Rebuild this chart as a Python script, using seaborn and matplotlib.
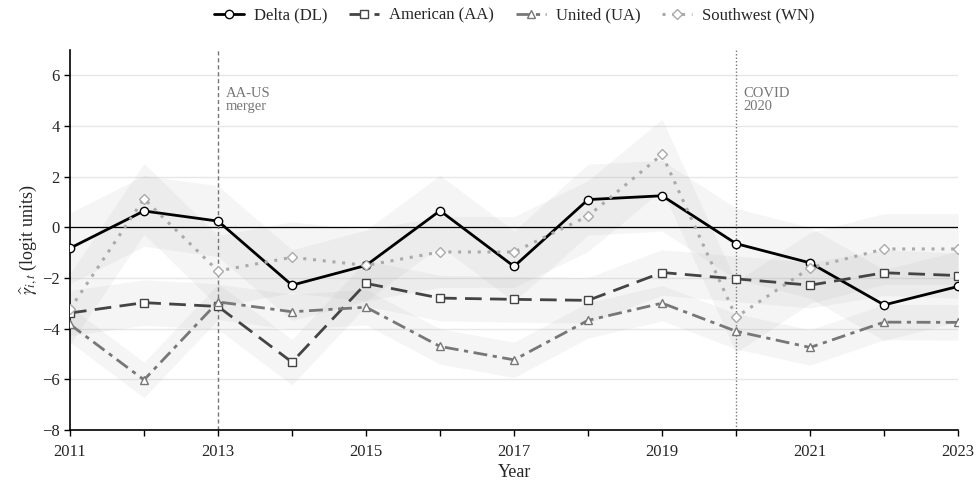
import numpy as np
import pandas as pd
import matplotlib
matplotlib.use("Agg")
import matplotlib.pyplot as plt
import seaborn as sns
from matplotlib.ticker import MultipleLocator

years = list(range(2011, 2024))
delta = [-0.82, 0.65, 0.25, -2.28, -1.5, 0.66, -1.54, 1.1, 1.25, -0.64, -1.4, -3.06, -2.33]
american = [-3.38, -2.97, -3.12, -5.32, -2.21, -2.79, -2.84, -2.88, -1.78, -2.03, -2.28, -1.79, -1.9]
united = [-3.83, -6.02, -2.94, -3.33, -3.15, -4.7, -5.23, -3.67, -2.99, -4.1, -4.74, -3.74, -3.75]
southwest = [-3.22, 1.13, -1.72, -1.18, -1.5, -0.97, -0.97, 0.45, 2.88, -3.54, -1.6, -0.85, -0.85]
half_width = {"Delta (DL)": 1.4, "American (AA)": 0.9, "United (UA)": 0.7, "Southwest (WN)": 1.4}
labels = ["Delta (DL)", "American (AA)", "United (UA)", "Southwest (WN)"]
series = [delta, american, united, southwest]
xtick_years = [2011, 2013, 2015, 2017, 2019, 2021, 2023]
yticks = [-8, -6, -4, -2, 0, 2, 4, 6]

sns.set_theme(style="white")
plt.rcParams["font.family"] = ["Liberation Serif", "DejaVu Serif"]
plt.rcParams["mathtext.fontset"] = "stix"

df = pd.DataFrame({
    "Year": years * 4,
    "value": sum(series, []),
    "airline": sum([[l] * len(years) for l in labels], []),
})

colors = {"Delta (DL)": "#000000", "American (AA)": "#444444", "United (UA)": "#777777", "Southwest (WN)": "#aaaaaa"}
markers = {"Delta (DL)": "o", "American (AA)": "s", "United (UA)": "^", "Southwest (WN)": "D"}
dashes = {"Delta (DL)": "-", "American (AA)": (0, (6, 3)), "United (UA)": (0, (5, 2, 1.5, 2)), "Southwest (WN)": (0, (1, 2.2))}

fig = plt.figure(figsize=(9.76, 4.87), dpi=100)
ax = fig.add_axes([0.0717, 0.117, 0.91, 0.78])

for l in labels:
    sub = df[df.airline == l]
    hw = half_width[l]
    ax.fill_between(sub.Year, sub.value - hw, sub.value + hw, color="#999999", alpha=0.09, linewidth=0, zorder=1)

for l in labels:
    sub = df[df.airline == l]
    sns.lineplot(data=sub, x="Year", y="value", ax=ax, color=colors[l], linestyle=dashes[l],
                 linewidth=2.0 if l != "Southwest (WN)" else 2.2,
                 marker=markers[l], markersize=6 if markers[l] != "D" else 5.5,
                 markerfacecolor="white", markeredgecolor=colors[l], markeredgewidth=1.0,
                 label=l, zorder=3)

ax.axhline(0, color="black", linewidth=0.9, zorder=2)
ax.axvline(2013, color="#777777", linestyle=(0, (3, 2)), linewidth=1.0, zorder=2)
ax.axvline(2020, color="#777777", linestyle=(0, (1, 1.5)), linewidth=1.0, zorder=2)
ax.text(2013.1, 5.55, "AA-US\nmerger", color="#777777", fontsize=10.5, va="top", ha="left", linespacing=1.05)
ax.text(2020.1, 5.55, "COVID\n2020", color="#777777", fontsize=10.5, va="top", ha="left", linespacing=1.05)

ax.set_xlim(2011, 2023)
ax.set_ylim(-8, 7)
ax.set_xticks(xtick_years)
ax.set_xticklabels([str(y) for y in xtick_years])
ax.xaxis.set_minor_locator(MultipleLocator(1))
ax.set_yticks(yticks)
ax.yaxis.grid(True, color="#e6e6e6", linewidth=1.0, zorder=0)
ax.xaxis.grid(False)
for s in ["top", "right"]:
    ax.spines[s].set_visible(False)
for s in ["left", "bottom"]:
    ax.spines[s].set_color("black")
    ax.spines[s].set_linewidth(1.2)
ax.tick_params(axis="both", which="major", direction="out", length=4, width=1, labelsize=12, color="black", bottom=True, left=True)
ax.tick_params(axis="x", which="major", pad=6)
ax.tick_params(axis="x", which="minor", direction="out", length=4, width=1, color="black", bottom=True)
ax.set_xlabel("Year", fontsize=13, labelpad=3)
ax.set_ylabel(r"$\widehat{\gamma}_{i,t}$ (logit units)", fontsize=13, labelpad=2)

if ax.legend_:
    ax.legend_.remove()
handles, lbls = ax.get_legend_handles_labels()
fig.legend(handles, lbls, loc="upper center", bbox_to_anchor=(0.5267, 1.015), ncol=4, frameon=False,
           fontsize=12, handlelength=1.8, columnspacing=1.3, handletextpad=0.6)

fig.savefig("out.png", dpi=100)
